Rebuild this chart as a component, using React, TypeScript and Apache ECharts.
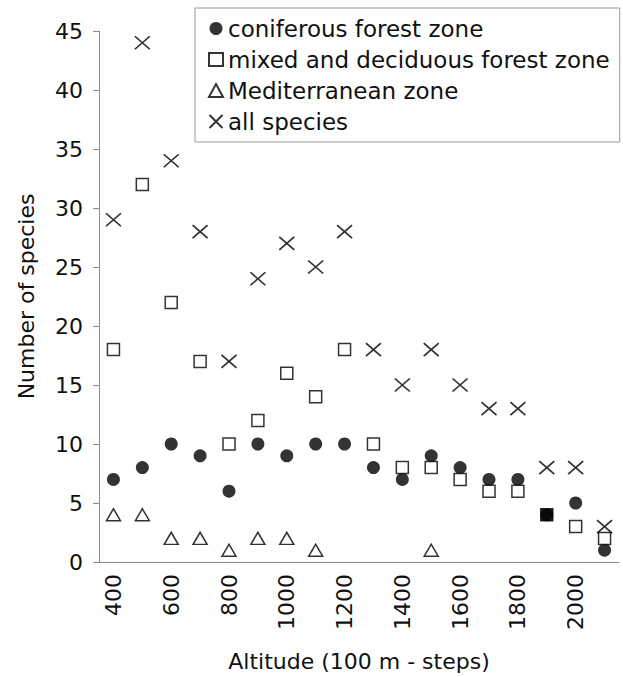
import React, { useEffect, useRef } from "react";
import * as echarts from "echarts";

const categories = ["400","500","600","700","800","900","1000","1100","1200","1300","1400","1500","1600","1700","1800","1900","2000","2100"];
const coniferous = [7, 8, 10, 9, 6, 10, 9, 10, 10, 8, 7, 9, 8, 7, 7, 4, 5, 1];
const mixed = [18, 32, 22, 17, 10, 12, 16, 14, 18, 10, 8, 8, 7, 6, 6, 4, 3, 2];
const mediterranean = [4, 4, 2, 2, 1, 2, 2, 1, null, null, null, 1, null, null, null, null, null, null];
const allSpecies = [29, 44, 34, 28, 17, 24, 27, 25, 28, 18, 15, 18, 15, 13, 13, 8, 8, 3];

const seriesNames = [
  "coniferous forest zone",
  "mixed and deciduous forest zone",
  "Mediterranean zone",
  "all species",
];

const FONT = "DejaVu Sans";
const TEXT = "#111";
const AXIS = "#8a8a8a";

export default function App() {
  const ref = useRef<HTMLDivElement>(null);
  useEffect(() => {
    if (!ref.current) return;
    const chart = echarts.init(ref.current, undefined, { renderer: "svg" });
    chart.setOption({
      animation: false,
      backgroundColor: "#fff",
      grid: { left: 99, top: 31, width: 520, height: 533, containLabel: false },
      legend: {
        data: seriesNames,
        orient: "vertical",
        left: 195,
        top: 8,
        padding: [9, 10, 9, 12],
        itemGap: 8,
        itemWidth: 14,
        itemHeight: 13,
        backgroundColor: "#fff",
        borderColor: "#999",
        borderWidth: 1,
        borderRadius: 0,
        textStyle: { fontFamily: FONT, fontSize: 23, color: TEXT },
      },
      xAxis: {
        type: "category",
        data: categories,
        boundaryGap: true,
        axisLine: { lineStyle: { color: AXIS, width: 1 } },
        axisTick: { interval: 0, length: 6, lineStyle: { color: AXIS } },
        axisLabel: {
          interval: 1,
          rotate: 90,
          fontFamily: FONT,
          fontSize: 22,
          color: TEXT,
          margin: 12,
        },
        splitLine: { show: false },
        name: "Altitude (100 m - steps)",
        nameLocation: "middle",
        nameGap: 88,
        nameTextStyle: { fontFamily: FONT, fontSize: 22, color: TEXT },
      },
      yAxis: {
        type: "value",
        min: 0,
        max: 45,
        interval: 5,
        axisLine: { show: true, lineStyle: { color: AXIS, width: 1 } },
        axisTick: { show: true, length: 6, lineStyle: { color: AXIS } },
        axisLabel: { fontFamily: FONT, fontSize: 22, color: TEXT, margin: 16 },
        splitLine: { show: false },
        name: "Number of species",
        nameLocation: "middle",
        nameGap: 62,
        nameRotate: 90,
        nameTextStyle: { fontFamily: FONT, fontSize: 22, color: TEXT },
      },
      series: [
        {
          name: seriesNames[0],
          type: "scatter",
          data: coniferous,
          symbol: "circle",
          symbolSize: 13,
          itemStyle: { color: "#000" },
        },
        {
          name: seriesNames[1],
          type: "scatter",
          data: mixed.map((v, i) =>
            categories[i] === "1900" ? { value: v, itemStyle: { color: "#000" } } : v
          ),
          symbol: "rect",
          symbolSize: 12,
          itemStyle: { color: "#fff", borderColor: "#000", borderWidth: 1.5 },
        },
        {
          name: seriesNames[2],
          type: "scatter",
          data: mediterranean,
          symbol: "triangle",
          symbolSize: [14, 12],
          itemStyle: { color: "#fff", borderColor: "#000", borderWidth: 1.5 },
        },
        {
          name: seriesNames[3],
          type: "scatter",
          data: allSpecies,
          symbol: "path://M0,0L10,10M0,10L10,0",
          symbolSize: [15, 13],
          itemStyle: { color: "none", borderColor: "#000", borderWidth: 1.6 },
        },
      ],
    });
    return () => chart.dispose();
  }, []);
  return (
    <div
      ref={ref}
      style={{ position: "absolute", left: 0, top: 0, width: 623, height: 677 }}
    />
  );
}
